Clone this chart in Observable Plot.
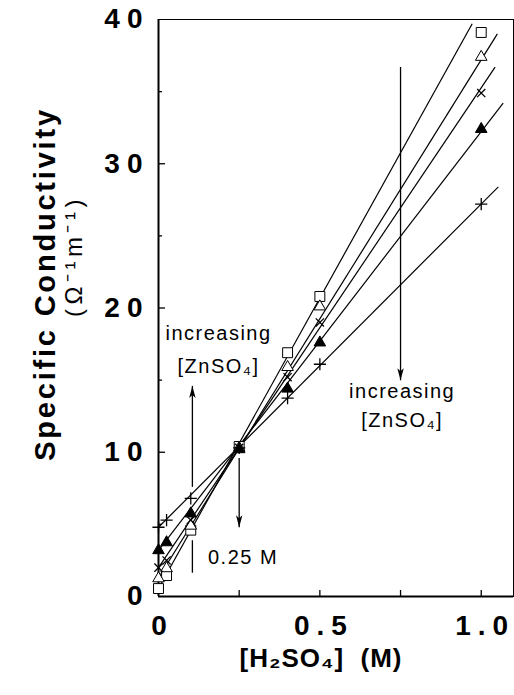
<!DOCTYPE html>
<html><head><meta charset="utf-8">
<script src="https://cdn.jsdelivr.net/npm/d3@7"></script>
<script src="https://cdn.jsdelivr.net/npm/@observablehq/plot@0.6"></script>
<style>body{margin:0;background:#fff}</style>
</head><body><div id="chart"></div>
<script>
// ---- data ----
const xConc = [0, 0.025, 0.1, 0.25, 0.4, 0.5, 1.0];           // [H2SO4] (M)
const ySquareOpen   = [0.55, 1.45, 4.6, 10.4, 16.9, 20.8, 39.1];
const yTriangleOpen = [1.25, 1.95, 4.9, 10.3, 15.9, 20.1, 37.4];
const yTimes        = [2.0, 2.5, 5.3, 10.3, 15.2, 19.0, 34.9];
const yTriangleFill = [3.2, 3.75, 5.75, 10.2, 14.4, 17.6, 32.4];
const yPlus         = [4.8, 5.3, 6.8, 10.3, 13.75, 16.1, 27.2];

// fitted lines (start / end), same order as series
const fitX1 = [0, 0, 0, 0, 0];
const fitY1 = [0.55, 1.3, 2.0, 3.2, 4.8];
const fitX2 = [0.972, 1.05, 1.043, 1.068, 1.053];
const fitY2 = [39.7, 39.0, 36.7, 34.2, 28.4];

const yTickMajor = [0, 10, 20, 30, 40];
const yTickMinor = [5, 15, 25, 35];
const xTickLabels = ["0", "0.5", "1.0"];
const xTickLabelValues = [0, 0.5, 1.0];
const xTickMarks = [0.25, 0.5, 0.75, 1.0];

// annotations
const arrowX  = [0.105, 0.25, 0.75];
const arrowY1 = [7.6, 9.6, 36.7];     // tail
const arrowY2 = [14.6, 4.8, 15.0];    // head
const segX = [0.105], segY1 = [1.65], segY2 = [3.9];
const noteText = ["increasing", "[ZnSO₄]", "0.25 M", "increasing", "[ZnSO₄]"];
const noteX = [0.186, 0.186, 0.262, 0.755, 0.755];
const noteY = [18.2, 15.95, 2.7, 14.2, 12.2];

// ---- build tables ----
const seriesDefs = [
  {name: "sqOpen", y: ySquareOpen, symbol: "square", fill: "white", r: 5.6},
  {name: "triOpen", y: yTriangleOpen, symbol: "triangle", fill: "white", r: 4.3},
  {name: "times", y: yTimes, symbol: "times", fill: "none", r: 3.8},
  {name: "triFill", y: yTriangleFill, symbol: "triangle", fill: "black", r: 4.3},
  {name: "plus", y: yPlus, symbol: "plus", fill: "none", r: 4.0}
];
const fits = fitX1.map((d, i) => ({x1: d, y1: fitY1[i], x2: fitX2[i], y2: fitY2[i]}));
const arrows = arrowX.map((d, i) => ({x: d, y1: arrowY1[i], y2: arrowY2[i], up: arrowY2[i] > arrowY1[i]}));
const segs = segX.map((d, i) => ({x: d, y1: segY1[i], y2: segY2[i]}));
const notes = noteText.map((t, i) => ({t, x: noteX[i], y: noteY[i]}));
const yTickLabels = yTickMajor.map(v => ({v, t: String(v)}));
const xLabels = xTickLabelValues.map((v, i) => ({v, t: xTickLabels[i]}));

const W = 514, H = 695, mL = 158, mR = 1, mT = 19, mB = 99;
const frameW = W - mL - mR, frameH = H - mT - mB;

const dart = {
  draw(ctx) {
    ctx.moveTo(0, 0); ctx.lineTo(3.2, 12); ctx.lineTo(0, 9); ctx.lineTo(-3.2, 12); ctx.closePath();
  }
};

const font = "Liberation Sans, Arial, Helvetica, sans-serif";

const marks = [
  Plot.frame({stroke: "black", strokeWidth: 1}),
  Plot.ruleX([0], {strokeWidth: 2}),
  Plot.ruleY([0], {strokeWidth: 2}),
  Plot.ruleY(yTickMajor.slice(1, -1), {y: d => d, insetRight: frameW - 7, strokeWidth: 1.3}),
  Plot.ruleY(yTickMinor, {y: d => d, insetRight: frameW - 4, strokeWidth: 1.3}),
  Plot.ruleX(xTickMarks, {x: d => d, insetTop: frameH - 6, strokeWidth: 1.3}),
  // fitted lines
  Plot.link(fits, {x1: "x1", y1: "y1", x2: "x2", y2: "y2", stroke: "black", strokeWidth: 1.2}),
  // annotation arrows
  Plot.link(arrows, {x1: "x", x2: "x", y1: "y1", y2: "y2", stroke: "black", strokeWidth: 1.3}),
  Plot.link(segs, {x1: "x", x2: "x", y1: "y1", y2: "y2", stroke: "black", strokeWidth: 1.3}),
  Plot.dot(arrows, {x: "x", y: "y2", symbol: dart, r: 4, fill: "black", stroke: "none", rotate: d => d.up ? 0 : 180}),
  // data points
  ...seriesDefs.map(s => Plot.dot(xConc.map((x, i) => ({x, y: s.y[i]})), {
    x: "x", y: "y", symbol: s.symbol, r: s.r,
    fill: s.fill, stroke: "black", strokeWidth: s.fill === "none" ? 1.3 : 1
  })),
  // notes
  Plot.text(notes, {x: "x", y: "y", text: "t", fontSize: 20, fontFamily: font, fill: "black"}),
  // tick labels
  Plot.text(yTickLabels, {x: () => 0, y: "v", text: "t", textAnchor: "end", dx: -9, fontSize: 28, fontWeight: "bold", fontFamily: font}),
  Plot.text(xLabels, {x: "v", y: () => 0, text: "t", dy: 30, dx: 4, fontSize: 28, fontWeight: "bold", fontFamily: font}),
  // axis titles
  Plot.text(["[H₂SO₄]  (M)"], {frameAnchor: "bottom", textAnchor: "middle", dx: -15, dy: 70, fontSize: 26, fontWeight: "bold", fontFamily: font}),
  Plot.text(["Specific Conductivity"], {frameAnchor: "left", textAnchor: "middle", rotate: -90, dx: -113, dy: -24, fontSize: 29, fontWeight: "bold", fontFamily: font}),
  Plot.text(["(Ω⁻¹m⁻¹)"], {frameAnchor: "left", textAnchor: "middle", rotate: -90, dx: -84, dy: -52, fontSize: 24, fontFamily: font})
];

const svg = Plot.plot({
  width: W, height: H,
  marginLeft: mL, marginRight: mR, marginTop: mT, marginBottom: mB,
  x: {domain: [0, 1.1], axis: null},
  y: {domain: [0, 40], axis: null},
  style: {background: "white", color: "black", overflow: "visible"},
  marks
});

// letter spacing for the widened typography
d3.select(svg).selectAll("text").each(function () {
  const t = this.textContent;
  if (["0","10","20","30","40","0.5","1.0"].includes(t)) d3.select(this).attr("letter-spacing", "7px");
  else if (t === "Specific Conductivity") d3.select(this).attr("letter-spacing", "2.8px");
  else if (t.startsWith("(")) d3.select(this).attr("letter-spacing", "4.5px");
  else if (t.startsWith("[H")) d3.select(this).attr("letter-spacing", "1px");
  else d3.select(this).attr("letter-spacing", "1.5px");
});
document.getElementById("chart").appendChild(svg);
</script>
</body></html>
